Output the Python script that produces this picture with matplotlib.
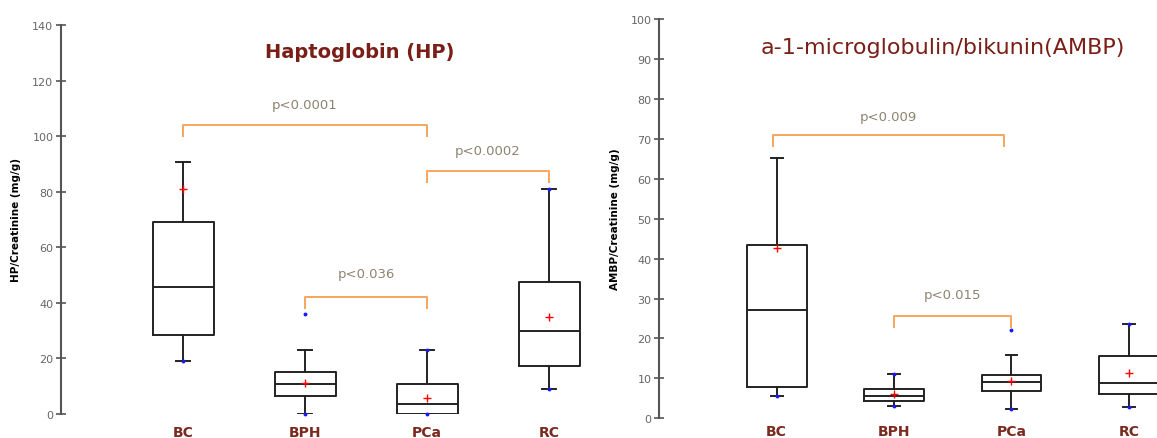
import matplotlib
matplotlib.use("Agg")
import matplotlib.pyplot as plt

groups = ["BC", "BPH", "PCa", "RC"]

# Haptoglobin (HP) / creatinine, mg/g
hp_whislo = [19.1, 0.0, 0.0, 8.9]
hp_q1 = [28.4, 6.4, 0.0, 17.2]
hp_med = [45.7, 10.9, 3.6, 29.9]
hp_q3 = [69.1, 15.0, 10.9, 47.4]
hp_whishi = [90.7, 22.9, 23.1, 81.0]
hp_mean = [81.0, 11.3, 5.8, 34.9]
hp_dots = [[19.1], [36.0, 0.0], [23.1, 0.0], [81.0, 8.9]]

# AMBP / creatinine, mg/g
ambp_whislo = [5.5, 3.0, 2.3, 2.75]
ambp_q1 = [7.9, 4.3, 6.9, 6.1]
ambp_med = [27.2, 5.7, 9.2, 8.8]
ambp_q3 = [43.4, 7.3, 10.8, 15.7]
ambp_whishi = [65.1, 11.0, 15.9, 23.5]
ambp_mean = [42.6, 6.1, 9.4, 11.3]
ambp_dots = [[5.5], [11.0, 3.0], [22.0, 2.3], [23.5, 2.75]]

# significance brackets: (from group, to group, bar level, drop level, label, label level)
hp_pvals = [(1, 3, 104, 100, "p<0.0001", 111.5),
            (3, 4, 87.5, 83.6, "p<0.0002", 95),
            (2, 3, 42, 38, "p<0.036", 50.4)]
ambp_pvals = [(0.97, 2.94, 70.9, 68.3, "p<0.009", 75.7),
              (2, 3, 25.5, 22.8, "p<0.015", 30.9)]

TITLE_RED = "#7a1f17"
TICK_RED = "#7a2a1e"
ORANGE = "#f5a65b"
PCOL = "#8c8470"
AXCOL = "#555555"

W, H = 1157, 439
fig = plt.figure(figsize=(W / 100, H / 100), dpi=100)


def panel(rect, whislo, q1, med, q3, whishi, mean, dots, pvals, ylim, yticks,
          xlim, boxw, capw, ylabel, labpad):
    ax = fig.add_axes(rect)
    stats = []
    for i in range(len(groups)):
        stats.append(dict(whislo=whislo[i], q1=q1[i], med=med[i], q3=q3[i],
                          whishi=whishi[i], fliers=[], label=groups[i]))
    pos = list(range(1, len(groups) + 1))
    ax.bxp(stats, positions=pos, widths=boxw, capwidths=capw, showfliers=False,
           boxprops=dict(color="#222222", linewidth=1.4),
           medianprops=dict(color="#222222", linewidth=1.4),
           whiskerprops=dict(color="#222222", linewidth=1.4),
           capprops=dict(color="#222222", linewidth=1.4))
    for p, d in zip(pos, dots):
        ax.plot([p] * len(d), d, "o", color="#1a1aff", markersize=1.8, zorder=5,
                clip_on=False)
    ax.plot(pos, mean, "+", color="red", markersize=6, markeredgewidth=1.0,
            linestyle="none", zorder=6, clip_on=False)
    for a, b, lvl, drop, txt, ty in pvals:
        ax.plot([a, a, b, b], [drop, lvl, lvl, drop], color=ORANGE, linewidth=1.4,
                clip_on=False)
        ax.text((a + b) / 2, ty, txt, ha="center", va="center", fontsize=9.5,
                color=PCOL)
    ax.set_ylim(*ylim)
    ax.set_xlim(*xlim)
    ax.set_yticks(yticks)
    for s in ["top", "right", "bottom"]:
        ax.spines[s].set_visible(False)
    ax.spines["left"].set_color(AXCOL)
    ax.spines["left"].set_linewidth(1.5)
    ax.tick_params(axis="y", direction="inout", length=7, width=1.2, color=AXCOL,
                   labelcolor="#666666", labelsize=8, pad=2)
    ax.tick_params(axis="x", length=0, pad=labpad)
    ax.set_xticks(pos)
    ax.set_xticklabels(groups, color=TICK_RED, fontsize=10, fontweight="bold")
    ax.set_ylabel(ylabel, fontsize=7.5, fontweight="bold", labelpad=8)
    ax.patch.set_visible(False)
    return ax


panel([61 / W, 24 / H, 549 / W, 389 / H], hp_whislo, hp_q1, hp_med, hp_q3,
      hp_whishi, hp_mean, hp_dots, hp_pvals, (0, 140), range(0, 141, 20),
      (0, 4.5), 0.5, 0.12, "HP/Creatinine (mg/g)", 8)
panel([659.3 / W, 19.7 / H, (W - 659.3) / W, 399.3 / H], ambp_whislo, ambp_q1,
      ambp_med, ambp_q3, ambp_whishi, ambp_mean, ambp_dots, ambp_pvals,
      (0, 100), range(0, 101, 10), (0, 4.24), 0.51, 0.1,
      "AMBP/Creatinine (mg/g)", 4)

fig.text(360 / W, 1 - 52 / H, "Haptoglobin (HP)", ha="center", va="center",
         fontsize=14, fontweight="bold", color=TITLE_RED)
fig.text(943 / W, 1 - 48 / H, "a-1-microglobulin/bikunin(AMBP)", ha="center",
         va="center", fontsize=16, color=TITLE_RED)

fig.savefig("out.png", dpi=100)
